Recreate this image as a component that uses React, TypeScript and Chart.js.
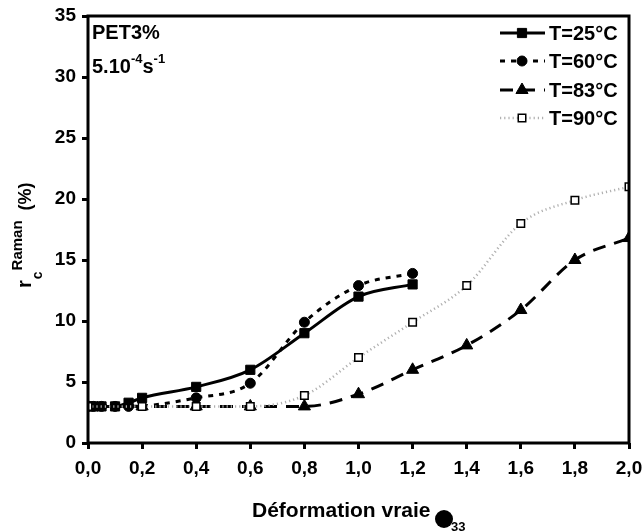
import React, { useEffect, useRef } from 'react';
import { Chart, registerables } from 'chart.js';
Chart.register(...registerables);

const FONT = '"Liberation Sans", Arial, Helvetica, sans-serif';

const X_TICKS = [0, 0.2, 0.4, 0.6, 0.8, 1.0, 1.2, 1.4, 1.6, 1.8, 2.0];
const Y_TICKS = [0, 5, 10, 15, 20, 25, 30, 35];

const LABELS = ['T=25°C', 'T=60°C', 'T=83°C', 'T=90°C'];

const X25 = [0, 0.02, 0.05, 0.1, 0.15, 0.2, 0.4, 0.6, 0.8, 1.0, 1.2];
const Y25 = [3, 3, 3, 3, 3.3, 3.7, 4.6, 6, 9, 12, 13];

const X60 = [0, 0.02, 0.05, 0.1, 0.15, 0.4, 0.6, 0.8, 1.0, 1.2];
const Y60 = [3, 3, 3, 3, 3, 3.7, 4.9, 9.9, 12.9, 13.9];

const X83 = [0, 0.2, 0.4, 0.6, 0.8, 1.0, 1.2, 1.4, 1.6, 1.8, 2.0];
const Y83 = [3, 3, 3, 3, 3, 4, 6, 8, 10.9, 15, 16.8];

const X90 = [0, 0.2, 0.4, 0.6, 0.8, 1.0, 1.2, 1.4, 1.6, 1.8, 2.0];
const Y90 = [3, 3, 3, 3, 3.9, 7, 9.9, 12.9, 18, 19.9, 21];

const pts = (xs: number[], ys: number[]) => xs.map((x, i) => ({ x, y: ys[i] }));

type Style = {
  color: string;
  width: number;
  dash: number[];
  point: string;
  radius: number;
  fill: string;
  pborder: number;
};

const STYLES: Style[] = [
  { color: '#000', width: 3, dash: [], point: 'rect', radius: 6.5, fill: '#000', pborder: 1 },
  { color: '#000', width: 3, dash: [5, 6], point: 'circle', radius: 5, fill: '#000', pborder: 1 },
  { color: '#000', width: 3, dash: [13, 9], point: 'triangle', radius: 7, fill: '#000', pborder: 1 },
  { color: '#b0b0b0', width: 2.5, dash: [1.2, 3], point: 'rect', radius: 5.3, fill: '#fff', pborder: 1.5 },
];

function drawMarker(ctx: CanvasRenderingContext2D, s: Style, x: number, y: number) {
  ctx.save();
  ctx.setLineDash([]);
  ctx.fillStyle = s.fill;
  ctx.strokeStyle = '#000';
  ctx.lineWidth = s.pborder;
  ctx.beginPath();
  if (s.point === 'rect') {
    const h = Math.SQRT1_2 * s.radius;
    ctx.rect(x - h, y - h, 2 * h, 2 * h);
  } else if (s.point === 'circle') {
    ctx.arc(x, y, s.radius, 0, Math.PI * 2);
  } else {
    const r = s.radius;
    ctx.moveTo(x, y - r);
    ctx.lineTo(x + r * Math.cos(Math.PI / 6), y + r * 0.5);
    ctx.lineTo(x - r * Math.cos(Math.PI / 6), y + r * 0.5);
    ctx.closePath();
  }
  ctx.fill();
  ctx.stroke();
  ctx.restore();
}

const decorPlugin = {
  id: 'decor',
  afterDatasetsDraw(chart: any) {
    const ctx: CanvasRenderingContext2D = chart.ctx;
    const a = chart.chartArea;
    ctx.save();
    // frame
    ctx.strokeStyle = '#000';
    ctx.lineWidth = 3;
    ctx.setLineDash([]);
    ctx.strokeRect(a.left, a.top, a.right - a.left, a.bottom - a.top);

    // legend
    const baselines = [40, 68, 97, 125];
    STYLES.forEach((s, i) => {
      const yb = baselines[i];
      const yl = yb - 7;
      ctx.save();
      ctx.strokeStyle = s.color;
      ctx.lineWidth = s.width;
      ctx.setLineDash(s.dash);
      ctx.beginPath();
      ctx.moveTo(500, yl);
      ctx.lineTo(545, yl);
      ctx.stroke();
      ctx.restore();
      drawMarker(ctx, s, 522, yl);
      ctx.fillStyle = '#000';
      ctx.font = `bold 20px ${FONT}`;
      ctx.textAlign = 'left';
      ctx.textBaseline = 'alphabetic';
      ctx.fillText(LABELS[i], 549, yb);
    });

    // annotation
    ctx.fillStyle = '#000';
    ctx.textAlign = 'left';
    ctx.textBaseline = 'alphabetic';
    ctx.font = `bold 20px ${FONT}`;
    ctx.fillText('PET3%', 92, 39);
    let x = 92;
    ctx.fillText('5.10', x, 73);
    x += ctx.measureText('5.10').width;
    ctx.font = `bold 13px ${FONT}`;
    ctx.fillText('-4', x, 63);
    x += ctx.measureText('-4').width;
    ctx.font = `bold 20px ${FONT}`;
    ctx.fillText('s', x, 73);
    x += ctx.measureText('s').width;
    ctx.font = `bold 13px ${FONT}`;
    ctx.fillText('-1', x, 63);

    // x title
    ctx.font = `bold 21px ${FONT}`;
    ctx.fillText('Déformation vraie', 252, 517);
    ctx.beginPath();
    ctx.arc(444, 519, 9, 0, Math.PI * 2);
    ctx.fill();
    ctx.font = `bold 13px ${FONT}`;
    ctx.fillText('33', 451, 531);

    // y title
    ctx.save();
    ctx.translate(31, 288);
    ctx.rotate(-Math.PI / 2);
    ctx.font = `bold 20px ${FONT}`;
    ctx.fillText('r', 0, 0);
    let d = ctx.measureText('r').width + 1;
    ctx.font = `bold 14px ${FONT}`;
    ctx.fillText('c', d, 11);
    d += ctx.measureText('c').width + 1;
    ctx.font = `bold 15px ${FONT}`;
    ctx.fillText('Raman', d, -9);
    d += ctx.measureText('Raman').width + 10;
    ctx.font = `bold 18px ${FONT}`;
    ctx.fillText('(%)', d, 0);
    ctx.restore();

    ctx.restore();
  },
};

export default function App() {
  const ref = useRef<HTMLCanvasElement>(null);
  useEffect(() => {
    document.body.style.margin = '0';
    const series = [pts(X25, Y25), pts(X60, Y60), pts(X83, Y83), pts(X90, Y90)];
    const order = [3, 2, 1, 0];
    const datasets = order.map((i) => {
      const s = STYLES[i];
      return {
        label: LABELS[i],
        data: series[i],
        borderColor: s.color,
        borderWidth: s.width,
        borderDash: s.dash,
        cubicInterpolationMode: 'monotone' as const,
        pointStyle: s.point,
        pointRadius: s.radius,
        pointBackgroundColor: s.fill,
        pointBorderColor: '#000',
        pointBorderWidth: s.pborder,
        fill: false,
      };
    });
    const tickFont = { family: FONT, size: 19, weight: 'bold' as const };
    const chart = new Chart(ref.current!, {
      type: 'line',
      data: { datasets: datasets as any },
      options: {
        responsive: false,
        animation: false,
        layout: { padding: { left: 0, top: 16, right: 14, bottom: 0 } },
        plugins: { legend: { display: false }, tooltip: { enabled: false } },
        scales: {
          x: {
            type: 'linear',
            min: 0,
            max: 2,
            afterBuildTicks: (s: any) => {
              s.ticks = X_TICKS.map((v) => ({ value: v }));
            },
            ticks: {
              autoSkip: false,
              maxRotation: 0,
              color: '#000',
              font: tickFont,
              padding: 8,
              callback: (v: any) => Number(v).toFixed(1).replace('.', ','),
            },
            grid: { drawOnChartArea: false, drawTicks: true, tickLength: 6, tickWidth: 3, tickColor: '#000' },
            border: { display: false },
            afterFit: (s: any) => {
              s.height = 88;
              s.paddingLeft = 0;
              s.paddingRight = 0;
            },
          },
          y: {
            type: 'linear',
            min: 0,
            max: 35,
            afterBuildTicks: (s: any) => {
              s.ticks = Y_TICKS.map((v) => ({ value: v }));
            },
            ticks: {
              color: '#000',
              font: tickFont,
              padding: 6,
              callback: (v: any) => String(v),
            },
            grid: { drawOnChartArea: false, drawTicks: true, tickLength: 6, tickWidth: 3, tickColor: '#000' },
            border: { display: false },
            afterFit: (s: any) => {
              s.width = 88;
              s.paddingTop = 0;
              s.paddingBottom = 0;
            },
          },
        },
      },
      plugins: [decorPlugin],
    });
    return () => chart.destroy();
  }, []);
  return (
    <div style={{ width: 643, height: 531 }}>
      <canvas ref={ref} width={643} height={531} style={{ display: 'block' }} />
    </div>
  );
}
